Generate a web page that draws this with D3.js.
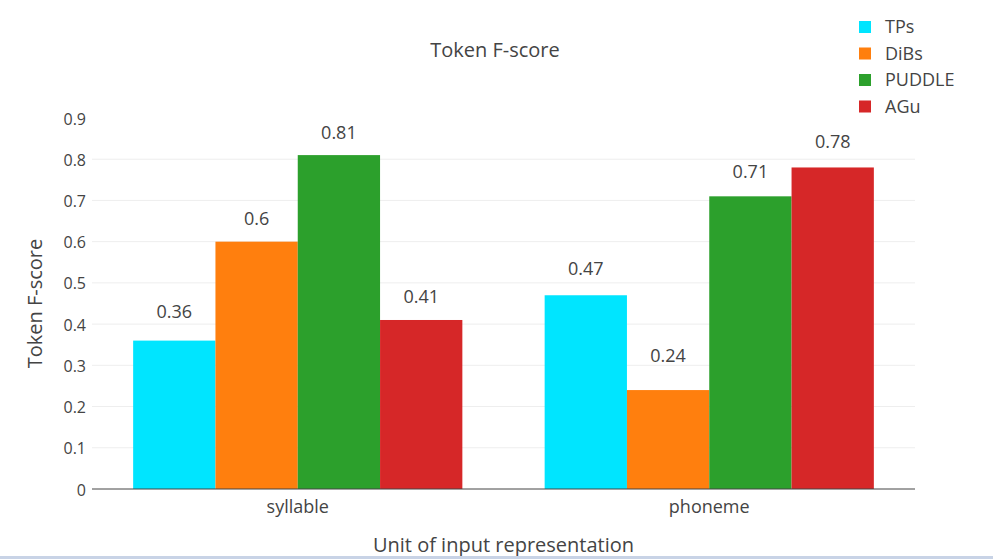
<!DOCTYPE html>
<html>
<head>
<meta charset="UTF-8">
<title>Token F-score</title>
<script src="https://d3js.org/d3.v7.min.js"></script>
<style>
  body { margin: 0; background: #fff; }
  svg { font-family: "Open Sans", "Noto Sans", sans-serif; }
</style>
</head>
<body>
<svg id="chart"></svg>
<script>
// data
var categories = ["syllable", "phoneme"];
var seriesNames = ["TPs", "DiBs", "PUDDLE", "AGu"];
var seriesColors = ["#00e5ff", "#ff7f0e", "#2ca02c", "#d62728"];
var tpsValues = [0.36, 0.47];
var dibsValues = [0.6, 0.24];
var puddleValues = [0.81, 0.71];
var aguValues = [0.41, 0.78];
// annotation heights (data units) as placed in the original
var tpsLabelY = [0.43, 0.535];
var dibsLabelY = [0.655, 0.325];
var puddleLabelY = [0.865, 0.77];
var aguLabelY = [0.467, 0.843];
var yTicks = [0, 0.1, 0.2, 0.3, 0.4, 0.5, 0.6, 0.7, 0.8, 0.9];

var seriesValues = [tpsValues, dibsValues, puddleValues, aguValues];
var seriesLabelY = [tpsLabelY, dibsLabelY, puddleLabelY, aguLabelY];

var width = 993, height = 559;
var plotLeft = 92, plotRight = 915, plotTop = 118, plotBottom = 489;

var svg = d3.select("#chart").attr("width", width).attr("height", height);

var x0 = d3.scaleBand().domain(categories).range([plotLeft, plotRight])
  .paddingInner(0.2).paddingOuter(0.1);
var x1 = d3.scaleBand().domain(seriesNames).range([0, x0.bandwidth()]);
var y = d3.scaleLinear().domain([0, 0.9]).range([plotBottom, plotTop]);

// gridlines
svg.append("g").selectAll("line")
  .data(yTicks.filter(function(d) { return d > 0 && d < 0.9; }))
  .enter().append("line")
  .attr("x1", plotLeft).attr("x2", plotRight)
  .attr("y1", function(d) { return y(d); })
  .attr("y2", function(d) { return y(d); })
  .attr("stroke", "#eeeeee").attr("stroke-width", 1);

// y tick labels
svg.append("g").selectAll("text")
  .data(yTicks).enter().append("text")
  .attr("x", plotLeft - 6)
  .attr("y", function(d) { return y(d) + 1; })
  .attr("dy", "0.35em")
  .attr("text-anchor", "end")
  .attr("font-size", 16)
  .attr("fill", "#444")
  .text(function(d) { return d === 0 ? "0" : d3.format(".1f")(d); });

// bars
var groups = svg.append("g").selectAll("g")
  .data(categories).enter().append("g")
  .attr("transform", function(c) { return "translate(" + x0(c) + ",0)"; });

groups.each(function(c, ci) {
  var g = d3.select(this);
  var rows = seriesNames.map(function(s, si) {
    return { name: s, value: seriesValues[si][ci], labelY: seriesLabelY[si][ci], color: seriesColors[si] };
  });
  g.selectAll("rect").data(rows).enter().append("rect")
    .attr("x", function(d) { return x1(d.name); })
    .attr("width", x1.bandwidth())
    .attr("y", function(d) { return y(d.value); })
    .attr("height", function(d) { return plotBottom - y(d.value); })
    .attr("fill", function(d) { return d.color; });
  g.selectAll("text").data(rows).enter().append("text")
    .attr("x", function(d) { return x1(d.name) + x1.bandwidth() / 2; })
    .attr("y", function(d) { return y(d.labelY); })
    .attr("dy", "0.36em")
    .attr("text-anchor", "middle")
    .attr("font-size", 18)
    .attr("fill", "#444")
    .text(function(d) { return String(d.value); });
});

// zero line
svg.append("line")
  .attr("x1", plotLeft).attr("x2", plotRight)
  .attr("y1", y(0)).attr("y2", y(0))
  .attr("stroke", "#444").attr("stroke-width", 1);

// category labels
svg.append("g").selectAll("text")
  .data(categories).enter().append("text")
  .attr("x", function(c) { return x0(c) + x0.bandwidth() / 2; })
  .attr("y", 513)
  .attr("text-anchor", "middle")
  .attr("font-size", 18)
  .attr("fill", "#444")
  .text(function(c) { return c; });

// titles
svg.append("text")
  .attr("x", 495).attr("y", 57)
  .attr("text-anchor", "middle")
  .attr("font-size", 20)
  .attr("fill", "#444")
  .text("Token F-score");

svg.append("text")
  .attr("x", (plotLeft + plotRight) / 2).attr("y", 552)
  .attr("text-anchor", "middle")
  .attr("font-size", 20)
  .attr("fill", "#444")
  .text("Unit of input representation");

svg.append("text")
  .attr("transform", "translate(42," + ((plotTop + plotBottom) / 2) + ") rotate(-90)")
  .attr("text-anchor", "middle")
  .attr("font-size", 20)
  .attr("fill", "#444")
  .text("Token F-score");

// legend
var legend = svg.append("g").selectAll("g")
  .data(seriesNames).enter().append("g")
  .attr("transform", function(d, i) { return "translate(859," + (27 + i * 26.5) + ")"; });
legend.append("rect")
  .attr("x", 0).attr("y", -6).attr("width", 12).attr("height", 12)
  .attr("fill", function(d, i) { return seriesColors[i]; });
legend.append("text")
  .attr("x", 26).attr("y", 0).attr("dy", "0.35em")
  .attr("font-size", 18)
  .attr("fill", "#444")
  .text(function(d) { return d; });

// bottom frame line
svg.append("rect")
  .attr("x", 0).attr("y", 556).attr("width", width).attr("height", 3)
  .attr("fill", "#c8d3e6");
</script>
</body>
</html>
